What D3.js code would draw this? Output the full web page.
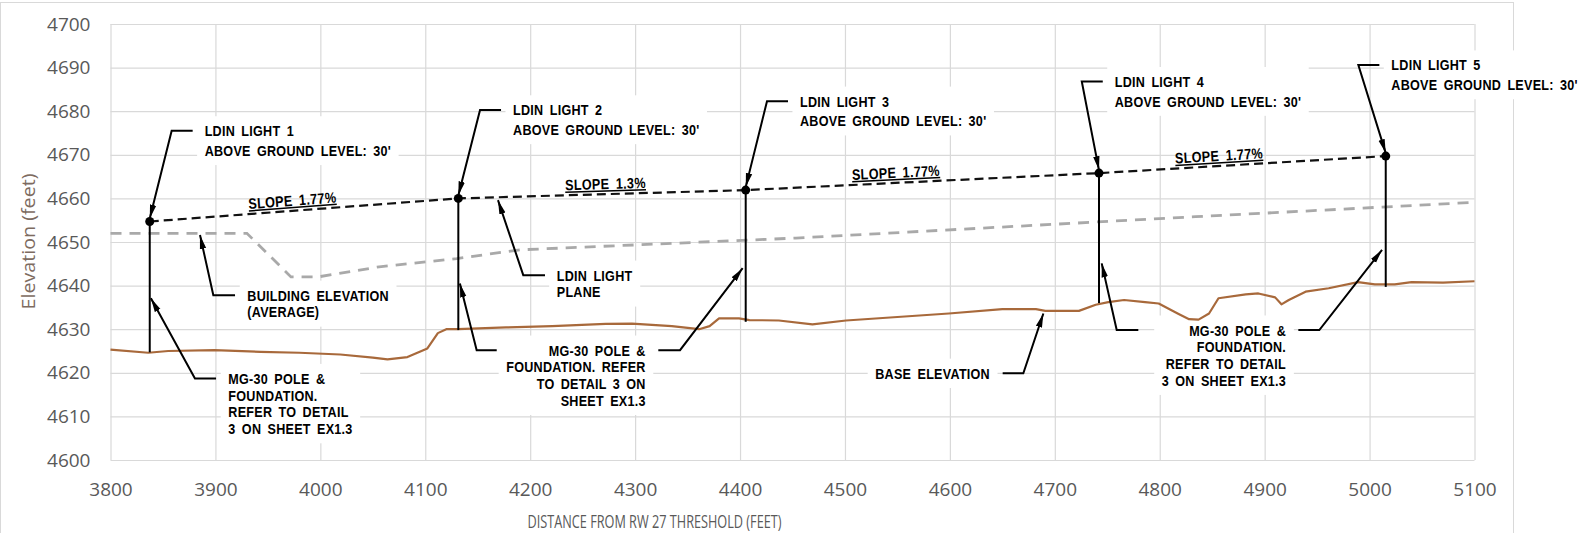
<!DOCTYPE html>
<html>
<head>
<meta charset="utf-8">
<script src="https://cdn.jsdelivr.net/npm/d3@7"></script>
<style>
  body { margin: 0; background: #fff; }
</style>
</head>
<body>
<div id="elevation-profile"></div>
<script>
// ---- data ----
const xTicks = [3800, 3900, 4000, 4100, 4200, 4300, 4400, 4500, 4600, 4700, 4800, 4900, 5000, 5100];
const yTicks = [4600, 4610, 4620, 4630, 4640, 4650, 4660, 4670, 4680, 4690, 4700];

// base elevation (ground), brown line
const groundDist = [3800, 3836, 3855, 3899, 3943, 3980, 4019, 4050, 4064, 4083, 4102, 4112, 4120, 4131, 4177, 4221,
  4272, 4297, 4335, 4361, 4371, 4380, 4399, 4409, 4437, 4469, 4501, 4599, 4650, 4682, 4691, 4723, 4739, 4751,
  4766, 4786, 4799, 4818, 4828, 4837, 4847, 4856, 4882, 4894, 4910, 4916, 4923, 4939, 4961, 4989, 5005, 5024,
  5040, 5070, 5100];
const groundElev = [4625.3, 4624.6, 4625.0, 4625.2, 4624.8, 4624.6, 4624.2, 4623.5, 4623.1, 4623.6, 4625.6, 4629.1,
  4630.0, 4630.0, 4630.4, 4630.7, 4631.2, 4631.3, 4630.7, 4630.0, 4630.7, 4632.5, 4632.5, 4632.1, 4632.0, 4631.1,
  4632.0, 4633.6, 4634.6, 4634.6, 4634.2, 4634.2, 4635.6, 4636.2, 4636.7, 4636.2, 4635.9, 4633.5, 4632.3, 4632.2,
  4633.6, 4637.1, 4638.0, 4638.2, 4637.3, 4635.7, 4636.7, 4638.6, 4639.4, 4640.8, 4640.3, 4640.3, 4640.8, 4640.7,
  4641.0];

// building elevation (average), grey dashed line
const buildingDist = [3800, 3930, 3972, 3998, 4056, 4130, 4190, 4453, 4834, 5100];
const buildingElev = [4652.0, 4652.0, 4642.0, 4642.0, 4644.3, 4646.2, 4648.2, 4650.9, 4655.8, 4659.1];

// LDIN lights (top of pole) and pole base
const lightNames = ["LDIN LIGHT 1", "LDIN LIGHT 2", "LDIN LIGHT 3", "LDIN LIGHT 4", "LDIN LIGHT 5"];
const lightDist = [3837.4, 4131.5, 4405.4, 4742.1, 5015.4];
const lightElev = [4654.7, 4660.0, 4661.9, 4665.8, 4669.7];
const poleBaseElev = [4624.7, 4629.8, 4631.7, 4636.0, 4639.7];
const lightSubtitle = "ABOVE GROUND LEVEL: 30'";
// elbow of each light's leader (distance, elevation)
const lightLabelDist = [3858.3, 4152.2, 4425.7, 4725.7, 4989.3];
const lightLabelElev = [4675.5, 4680.3, 4682.3, 4686.8, 4690.6];

// slope notes along the light plane
const slopeLabels = ["SLOPE 1.77%", "SLOPE 1.3%", "SLOPE 1.77%", "SLOPE 1.77%"];
const slopeLabelDist = [3974, 4272, 4549, 4857];

// callout notes: text lines, anchor point (distance, elevation), alignment
const noteLines = [
  ["BUILDING ELEVATION", "(AVERAGE)"],
  ["LDIN LIGHT", "PLANE"],
  ["MG-30 POLE &", "FOUNDATION.", "REFER TO DETAIL", "3 ON SHEET EX1.3"],
  ["MG-30 POLE &", "FOUNDATION. REFER", "TO DETAIL 3 ON", "SHEET EX1.3"],
  ["BASE ELEVATION"],
  ["MG-30 POLE &", "FOUNDATION.", "REFER TO DETAIL", "3 ON SHEET EX1.3"]
];
const noteDist = [3930.4, 4225.3, 3912.3, 4310.1, 4638.2, 4920.4];
const noteElev = [4637.8, 4642.4, 4618.7, 4625.2, 4619.9, 4629.8];
const noteAnchor = ["start", "start", "start", "end", "end", "end"];

// note leaders: [horizontal end, elbow, arrow tip] in (distance, elevation)
const noteLeaders = [
  [[3918.7, 4637.8], [3898.0, 4637.8], [3885.3, 4651.6]],
  [[4214.1, 4642.4], [4193.4, 4642.4], [4169.3, 4659.6]],
  [[3900.6, 4618.7], [3880.5, 4618.7], [3838.5, 4637.1]],
  [[4168.1, 4625.2], [4149.0, 4625.2], [4133.0, 4640.5]],
  [[4322.1, 4625.2], [4342.8, 4625.2], [4402.5, 4644.0]],
  [[4650.3, 4619.9], [4670.0, 4619.9], [4689.1, 4633.6]],
  [[4779.6, 4629.8], [4759.0, 4629.8], [4744.7, 4645.1]],
  [[4932.1, 4629.8], [4952.1, 4629.8], [5011.9, 4648.2]]
];

// ---- layout ----
const width = 1588;
const height = 533;
const cadFont = "'Liberation Sans', Arial, sans-serif";
const axisFont = "'Open Sans', 'Liberation Sans', sans-serif";
const squeeze = 0.84; // CAD lettering is narrow

const svg = d3.select("#elevation-profile")
  .append("svg")
  .attr("width", width)
  .attr("height", height)
  .style("display", "block");

const x = d3.scaleLinear().domain([3800, 5100]).range([110.5, 1474.5]);
const y = d3.scaleLinear().domain([4600, 4700]).range([460, 24]);

// outer chart frame
svg.append("rect")
  .attr("x", 0.5)
  .attr("y", 2.5)
  .attr("width", 1513)
  .attr("height", 560)
  .attr("fill", "none")
  .attr("stroke", "#d9d9d9");

// gridlines + tick labels
const yAxis = svg.append("g")
  .attr("transform", `translate(${x(3800)},0)`)
  .call(d3.axisLeft(y).tickValues(yTicks).tickFormat(d3.format("d"))
    .tickSize(-(x(5100) - x(3800))).tickPadding(20));
yAxis.select(".domain").remove();
yAxis.selectAll("line").attr("stroke", "#d9d9d9").attr("stroke-width", 1.2);
yAxis.selectAll("text")
  .style("font-family", axisFont)
  .style("font-size", "19px")
  .attr("fill", "#595959");

const xAxis = svg.append("g")
  .attr("transform", `translate(0,${y(4600)})`)
  .call(d3.axisBottom(x).tickValues(xTicks).tickFormat(d3.format("d"))
    .tickSize(-(y(4600) - y(4700))).tickPadding(23));
xAxis.select(".domain").remove();
xAxis.selectAll("line").attr("stroke", "#d9d9d9").attr("stroke-width", 1.2);
xAxis.selectAll("text")
  .style("font-family", axisFont)
  .style("font-size", "19px")
  .attr("fill", "#595959");

// axis titles
svg.append("text")
  .attr("x", 654.5)
  .attr("y", 528)
  .attr("text-anchor", "middle")
  .attr("textLength", 254)
  .attr("lengthAdjust", "spacingAndGlyphs")
  .style("font-family", axisFont)
  .style("font-size", "19px")
  .attr("fill", "#595959")
  .text("DISTANCE FROM RW 27 THRESHOLD (FEET)");

svg.append("text")
  .attr("transform", "translate(35,241.5) rotate(-90)")
  .attr("text-anchor", "middle")
  .attr("textLength", 136)
  .attr("lengthAdjust", "spacingAndGlyphs")
  .style("font-family", axisFont)
  .style("font-size", "19px")
  .attr("fill", "#7d6b60")
  .text("Elevation (feet)");

// arrowhead
svg.append("defs").append("marker")
  .attr("id", "arrow")
  .attr("viewBox", "0 -4 14 8")
  .attr("refX", 14)
  .attr("refY", 0)
  .attr("markerWidth", 14)
  .attr("markerHeight", 8)
  .attr("markerUnits", "userSpaceOnUse")
  .attr("orient", "auto")
  .append("path")
  .attr("d", "M0,-3.2L14,0L0,3.2Z")
  .attr("fill", "#000");

const maskLayer = svg.append("g");
const dataLayer = svg.append("g");
const noteLayer = svg.append("g");

const line = d3.line().x(d => x(d[0])).y(d => y(d[1]));

// ground
dataLayer.append("path")
  .datum(d3.zip(groundDist, groundElev))
  .attr("fill", "none")
  .attr("stroke", "#a8693b")
  .attr("stroke-width", 2.2)
  .attr("stroke-linejoin", "round")
  .attr("d", line);

// building elevation
dataLayer.append("path")
  .datum(d3.zip(buildingDist, buildingElev))
  .attr("fill", "none")
  .attr("stroke", "#a9a9a9")
  .attr("stroke-width", 2.8)
  .attr("stroke-dasharray", "11,8")
  .attr("d", line);

// light plane
dataLayer.append("path")
  .datum(d3.zip(lightDist, lightElev))
  .attr("fill", "none")
  .attr("stroke", "#111")
  .attr("stroke-width", 2.2)
  .attr("stroke-dasharray", "9,5")
  .attr("d", line);

// poles
dataLayer.selectAll(".pole")
  .data(lightDist)
  .join("line")
  .attr("class", "pole")
  .attr("x1", d => x(d))
  .attr("x2", d => x(d))
  .attr("y1", (d, i) => y(lightElev[i]))
  .attr("y2", (d, i) => y(poleBaseElev[i]))
  .attr("stroke", "#000")
  .attr("stroke-width", 2);

dataLayer.selectAll(".light")
  .data(lightDist)
  .join("circle")
  .attr("class", "light")
  .attr("cx", d => x(d))
  .attr("cy", (d, i) => y(lightElev[i]))
  .attr("r", 4.5)
  .attr("fill", "#000");

// helper: squeezed CAD-style text block with a white mask behind it
function textBlock(px, py, lines, anchor, spacing) {
  const tf = `translate(${px},${py}) scale(${squeeze},1)`;
  const t = noteLayer.append("g").attr("transform", tf)
    .append("text")
    .attr("text-anchor", anchor)
    .style("font-family", cadFont)
    .style("font-size", "15px")
    .style("font-weight", "bold")
    .style("letter-spacing", "0.3px")
    .style("word-spacing", "3px")
    .attr("fill", "#000");
  lines.forEach((l, i) => {
    t.append("tspan").attr("x", 0).attr("y", 5.5 + i * spacing).text(l);
  });
  const b = t.node().getBBox();
  maskLayer.append("rect")
    .attr("transform", tf)
    .attr("x", b.x - 9)
    .attr("y", b.y - 6)
    .attr("width", b.width + 18)
    .attr("height", b.height + 12)
    .attr("fill", "#fff");
}

const leaderLine = d3.line();

// light labels
lightNames.forEach((name, i) => {
  const cx = x(lightLabelDist[i]);
  const cy = y(lightLabelElev[i]);
  textBlock(cx + 33, cy, [name, lightSubtitle], "start", 19.5);
  noteLayer.append("path")
    .attr("d", leaderLine([[cx + 21, cy], [cx, cy], [x(lightDist[i]), y(lightElev[i]) - 3]]))
    .attr("fill", "none")
    .attr("stroke", "#000")
    .attr("stroke-width", 2)
    .attr("marker-end", "url(#arrow)");
});

// callout notes
noteLines.forEach((lines, i) => {
  textBlock(x(noteDist[i]), y(noteElev[i]), lines, noteAnchor[i], 16.7);
});

noteLeaders.forEach(pts => {
  noteLayer.append("path")
    .attr("d", leaderLine(pts.map(p => [x(p[0]), y(p[1])])))
    .attr("fill", "none")
    .attr("stroke", "#000")
    .attr("stroke-width", 2)
    .attr("marker-end", "url(#arrow)");
});

// slope labels sitting on the light plane
slopeLabels.forEach((label, i) => {
  const seg = d3.scaleLinear().domain([lightDist[i], lightDist[i + 1]]).range([lightElev[i], lightElev[i + 1]]);
  const px = x(slopeLabelDist[i]);
  const py = y(seg(slopeLabelDist[i]));
  const angle = Math.atan2(y(lightElev[i + 1]) - y(lightElev[i]), x(lightDist[i + 1]) - x(lightDist[i])) * 180 / Math.PI;
  noteLayer.append("text")
    .attr("transform", `translate(${px},${py}) rotate(${angle}) scale(${squeeze},1)`)
    .attr("y", -5)
    .attr("text-anchor", "middle")
    .style("font-family", cadFont)
    .style("font-size", "15px")
    .style("font-weight", "600")
    .style("letter-spacing", "0.4px")
    .style("word-spacing", "3px")
    .style("text-decoration", "underline")
    .attr("fill", "#000")
    .text(label);
});
</script>
</body>
</html>
